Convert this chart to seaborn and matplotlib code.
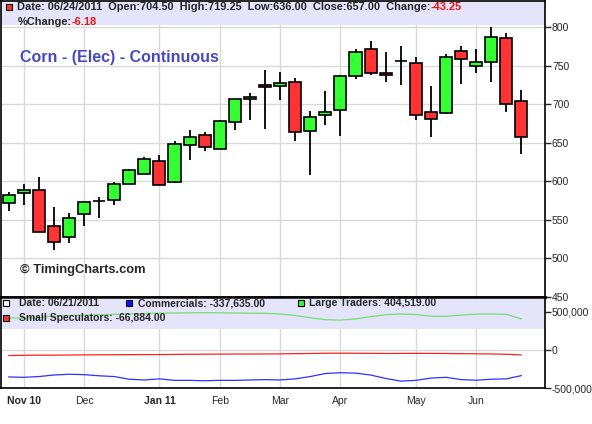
"""Weekly corn candlestick chart with COT positions panel underneath."""
import matplotlib
matplotlib.use("Agg")
from matplotlib import pyplot as plt
import pandas as pd
import seaborn as sns


dates = [
    "2010-10-29", "2010-11-05", "2010-11-12", "2010-11-19", "2010-11-26",
    "2010-12-03", "2010-12-10", "2010-12-17", "2010-12-24", "2010-12-31",
    "2011-01-07", "2011-01-14", "2011-01-21", "2011-01-28", "2011-02-04",
    "2011-02-11", "2011-02-18", "2011-02-25", "2011-03-04", "2011-03-11",
    "2011-03-18", "2011-03-25", "2011-04-01", "2011-04-08", "2011-04-15",
    "2011-04-22", "2011-04-29", "2011-05-06", "2011-05-13", "2011-05-20",
    "2011-05-27", "2011-06-03", "2011-06-10", "2011-06-17", "2011-06-24",
]
opens = [572, 585, 588, 542, 528, 558, 574, 575, 597, 609.5,
         626.5, 598.5, 647, 660, 642, 677, 706.5, 725.5, 723.5, 729,
         665.5, 686, 692.5, 736.5, 772, 741, 756, 754, 690, 688.5,
         769.5, 750, 755.5, 786, 704.5]
highs = [586, 596, 606, 567, 559, 574, 580, 599, 616, 631,
         634.5, 652, 667, 663.5, 680, 707, 714.5, 744.5, 742, 734.5,
         691.5, 717.5, 738, 772, 783, 768.5, 776.5, 762, 724, 766,
         776, 771.5, 800.5, 792.5, 719.25]
lows = [561, 569, 534, 510, 520, 541.5, 552, 569, 596, 609,
        595, 598, 627.5, 639.5, 641.5, 666.5, 680, 667.5, 706, 652,
        608, 672.5, 658.5, 732.5, 738, 728.5, 725, 680, 658, 688,
        726, 741, 728.5, 690.5, 636]
closes = [582, 588, 534.5, 521.5, 552.5, 573.5, 574, 596.5, 615, 629,
          595.5, 648.5, 657.5, 644.5, 678, 706.5, 709.5, 722, 727.5, 664,
          683.5, 690, 736.5, 767.5, 740.5, 738, 756, 686, 681.5, 761,
          759, 755.5, 787.5, 700.5, 657]

# COT net positions (contracts)
commercials = [-355000, -360000, -350000, -330000, -320000, -325000, -340000,
               -350000, -385000, -395000, -380000, -400000, -400000, -405000,
               -400000, -400000, -395000, -390000, -395000, -380000, -350000,
               -310000, -300000, -305000, -330000, -375000, -410000, -400000,
               -370000, -360000, -390000, -398000, -385000, -380000, -337635]
large_traders = [420000, 415000, 425000, 440000, 450000, 455000, 460000,
                 465000, 470000, 475000, 480000, 482000, 485000, 487000,
                 485000, 483000, 480000, 478000, 470000, 450000, 420000,
                 395000, 390000, 405000, 435000, 460000, 470000, 462000,
                 440000, 438000, 455000, 468000, 470000, 465000, 404519]
small_specs = [-75000, -72000, -70000, -70000, -68000, -66000, -65000,
               -64000, -63000, -62000, -62000, -60000, -58000, -57000,
               -56000, -55000, -55000, -54000, -53000, -50000, -48000,
               -45000, -44000, -45000, -46000, -48000, -47000, -46000,
               -47000, -48000, -50000, -52000, -54000, -58000, -66884]

price_ticks = [450, 500, 550, 600, 650, 700, 750, 800]
cot_ticks = [-500000, 0, 500000]
cot_tick_labels = ["-500,000", "0", "500,000"]
month_labels = ["Nov 10", "Dec", "Jan 11", "Feb", "Mar", "Apr", "May", "Jun"]

UP = "#33ff33"
DOWN = "#ff3333"
BAND = "#e4e4fa"
GRID = "#d9d9d9"

sns.set_style("white")
plt.rcParams["font.family"] = ["Liberation Sans", "DejaVu Sans"]

candles = pd.DataFrame({"date": pd.to_datetime(dates), "open": opens,
                        "high": highs, "low": lows, "close": closes})
candles["idx"] = range(len(candles))
months = candles["date"].dt.month
month_pos = [i for i in range(1, len(candles)) if months[i] != months[i - 1]]

cot = pd.DataFrame({"idx": candles["idx"], "Commercials": commercials,
                    "Large Traders": large_traders,
                    "Small Speculators": small_specs})
cot_long = cot.melt(id_vars="idx", var_name="series", value_name="net")

fig = plt.figure(figsize=(5.92, 4.24), dpi=100)
ax = fig.add_axes([0.001, 0.2995, 0.9196, 0.6993])
ax2 = fig.add_axes([0.001, 0.0849, 0.9196, 0.2146], sharex=ax)

# candles
ax.vlines(candles["idx"], candles["low"], candles["high"], colors="black",
          linewidth=1.3, zorder=2)
body_colors = [UP if c >= o else DOWN for o, c in zip(opens, closes)]
ax.bar(candles["idx"], (candles["close"] - candles["open"]).abs(),
       bottom=candles[["open", "close"]].min(axis=1), width=0.8,
       color=body_colors, edgecolor="black", linewidth=1.2, zorder=3)

ax.set_xlim(-0.53, 35.56)
ax.set_ylim(449.5, 835)
ax.set_yticks(price_ticks)
ax.yaxis.tick_right()
ax.set_xticks(month_pos)
ax.grid(True, color=GRID, linewidth=1)
ax.tick_params(axis="x", length=0, labelbottom=False)
ax.tick_params(axis="y", right=True, length=4, width=1, pad=1, labelsize=7.5)
ax.add_patch(plt.Rectangle((0, 0.916), 1, 0.084, transform=ax.transAxes,
                           facecolor=BAND, edgecolor="none", zorder=1))

# header text
ax.plot([0.0147], [0.977], marker="s", ms=5, mfc=DOWN, mec="black", mew=0.8,
        transform=ax.transAxes, clip_on=False, zorder=5)
head = ax.text(0.031, 0.978,
               "Date: 06/24/2011  Open:704.50  High:719.25  Low:636.00  "
               "Close:657.00  Change:", transform=ax.transAxes, fontsize=7.9,
               fontweight="bold", va="center", zorder=5)
ax.annotate("-43.25", xy=(1, 0.5), xycoords=head, va="center", fontsize=7.9,
            fontweight="bold", color="#ee1111", zorder=5)
pct = ax.text(0.031, 0.929, "%Change:", transform=ax.transAxes, fontsize=7.9,
              fontweight="bold", va="center", zorder=5)
ax.annotate("-6.18", xy=(1, 0.5), xycoords=pct, va="center", fontsize=7.9,
            fontweight="bold", color="#ee1111", zorder=5)

ax.text(0.035, 0.808, "Corn - (Elec) - Continuous", transform=ax.transAxes,
        fontsize=11.5, fontweight="bold", color="#4848c4", va="center")
ax.text(0.035, 0.091, "© TimingCharts.com", transform=ax.transAxes,
        fontsize=9.3, fontweight="bold", va="center")

# COT panel
sns.lineplot(data=cot_long, x="idx", y="net", hue="series", ax=ax2,
             palette={"Commercials": "#3030ff", "Large Traders": "#77dd77",
                      "Small Speculators": "#ff2020"},
             legend=False, linewidth=0.9, zorder=3)
ax2.set_ylim(-500000, 692000)
ax2.set_yticks(cot_ticks)
ax2.set_yticklabels(cot_tick_labels)
ax2.yaxis.tick_right()
ax2.set_xticks(month_pos)
ax2.set_xticklabels(month_labels)
for lab in ax2.get_xticklabels():
    if " " in lab.get_text():
        lab.set_fontweight("bold")
ax2.set_xlabel("")
ax2.set_ylabel("")
ax2.grid(True, color=GRID, linewidth=1)
ax2.tick_params(axis="x", length=0, pad=6, labelsize=7.5)
ax2.tick_params(axis="y", right=True, length=4, width=1, pad=1, labelsize=7.5)
ax2.add_patch(plt.Rectangle((0, 0.648), 1, 0.33, transform=ax2.transAxes,
                            facecolor=BAND, edgecolor="none", zorder=1))

legend_items = [
    (0.0105, 0.934, "white", "Date: 06/21/2011", 0.033),
    (0.235, 0.934, "#1010ff", "Commercials: -337,635.00", 0.253),
    (0.551, 0.934, UP, "Large Traders: 404,519.00", 0.567),
    (0.0105, 0.769, DOWN, "Small Speculators: -66,884.00", 0.033),
]
for mx, my, mc, label, tx in legend_items:
    ax2.plot([mx], [my], marker="s", ms=5, mfc=mc, mec="black", mew=0.8,
             transform=ax2.transAxes, clip_on=False, zorder=5)
    ax2.text(tx, my, label, transform=ax2.transAxes, fontsize=7.5,
             fontweight="bold", va="center", zorder=5)

for a in (ax, ax2):
    for side in a.spines.values():
        side.set_color("black")
        side.set_linewidth(1.2)
ax.spines["bottom"].set_linewidth(1.8)
ax2.spines["top"].set_linewidth(1.8)

fig.savefig("out.png", dpi=100)
